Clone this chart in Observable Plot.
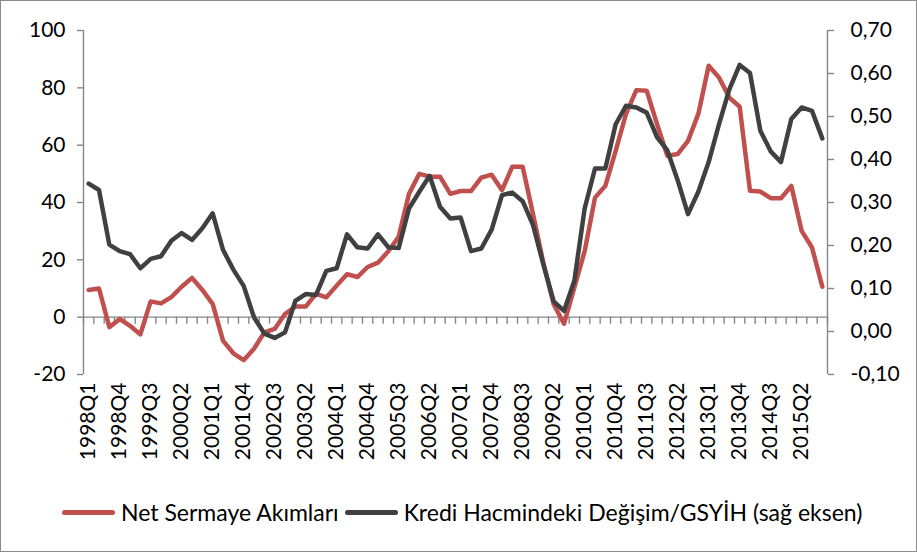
<!DOCTYPE html>
<html>
<head>
<meta charset="utf-8">
<script src="https://cdn.jsdelivr.net/npm/d3@7"></script>
<script src="https://cdn.jsdelivr.net/npm/@observablehq/plot@0.6"></script>
<style>
  body { margin: 0; background: #fff; }
  #wrap { position: relative; width: 917px; height: 552px; overflow: hidden; background: #fff; font-family: Lato, "Open Sans", sans-serif; }
  #border { position: absolute; left: 0; top: 0; right: 0; bottom: 0; border: 1px solid #8c8c8c; box-sizing: border-box; pointer-events: none; }
  #chart svg { display: block; }
  #legend { position: absolute; left: 0; top: 490px; width: 917px; height: 44px; display: flex; align-items: center; justify-content: flex-start; font-size: 23px; color: #000; padding-left: 62px; box-sizing: border-box; }
  .sw { display: inline-block; width: 53px; height: 5px; border-radius: 3px; margin-right: 6px; }
  .lab { margin-right: 6px; white-space: nowrap; }
</style>
</head>
<body>
<div id="wrap">
  <div id="chart"></div>
  <div id="legend"></div>
  <div id="border"></div>
</div>
<script>
// Quarters 1998Q1 .. 2015Q4
const years = d3.range(1998, 2016);
const quarters = years.flatMap(y => [1, 2, 3, 4].map(q => `${y}Q${q}`));

// Net Sermaye Akımları (left axis)
const netSermaye = [
  9.5, 10, -3.5, -0.6, -3, -6, 5.5, 4.8, 7, 10.6, 13.7, 9.5,
  4.6, -8.2, -12.6, -15, -11, -5.3, -4.1, 1.1, 3.7, 3.7, 8.1, 6.9,
  11, 15, 14, 17.5, 19, 23, 28, 43, 50, 49, 49, 43,
  44, 44, 48.7, 49.7, 44.3, 52.5, 52.5, 36, 19, 4.5, -2.3, 10.3,
  23, 41.7, 45.8, 58, 70.9, 79.2, 79, 67.4, 56.3, 56.9, 61.5, 70.9,
  87.7, 83.6, 76.6, 73.4, 44.1, 43.8, 41.5, 41.5, 45.8, 30.1, 24.3, 10.6
];

// Kredi Hacmindeki Değişim/GSYİH (right axis)
const krediDegisim = [
  0.344, 0.329, 0.202, 0.187, 0.180, 0.147, 0.169, 0.175, 0.211, 0.229, 0.213, 0.240,
  0.275, 0.190, 0.144, 0.106, 0.033, -0.005, -0.015, -0.002, 0.071, 0.087, 0.085, 0.141,
  0.147, 0.226, 0.196, 0.193, 0.226, 0.196, 0.194, 0.286, 0.325, 0.362, 0.290, 0.263,
  0.265, 0.187, 0.193, 0.237, 0.317, 0.323, 0.303, 0.248, 0.156, 0.070, 0.048, 0.118,
  0.286, 0.379, 0.379, 0.482, 0.525, 0.521, 0.509, 0.452, 0.421, 0.352, 0.273, 0.325,
  0.394, 0.482, 0.563, 0.620, 0.601, 0.467, 0.419, 0.394, 0.494, 0.521, 0.513, 0.449
];

const leftTicks = [-20, 0, 20, 40, 60, 80, 100];
const rightTicks = [-0.1, 0, 0.1, 0.2, 0.3, 0.4, 0.5, 0.6, 0.7];
const labelEvery = 3;

const seriesNames = ["Net Sermaye Akımları", "Kredi Hacmindeki Değişim/GSYİH (sağ eksen)"];
const colors = ["#C0504D", "#404040"];
const axisGray = "#868686";

// map right axis values onto left scale: [-0.1,0.7] -> [-20,100]
const leftDomain = [-20, 100];
const rightDomain = [-0.1, 0.7];
const toLeft = v => leftDomain[0] + (v - rightDomain[0]) / (rightDomain[1] - rightDomain[0]) * (leftDomain[1] - leftDomain[0]);
const fromLeft = v => rightDomain[0] + (v - leftDomain[0]) / (leftDomain[1] - leftDomain[0]) * (rightDomain[1] - rightDomain[0]);

const rows = quarters.map((q, i) => ({ i, q, net: netSermaye[i], kredi: krediDegisim[i] }));
const n = quarters.length;
const boundaries = d3.range(n + 1).map(k => k - 0.5);
const labelIdx = d3.range(0, n, labelEvery);
const fmtRight = v => d3.format(".2f")(v).replace("−", "-").replace(".", ",");

const chart = Plot.plot({
  width: 917,
  height: 480,
  marginLeft: 83,
  marginRight: 90,
  marginTop: 30,
  marginBottom: 106,
  style: { fontFamily: "Lato, 'Open Sans', sans-serif", fontSize: "21px", color: "#000", background: "transparent", overflow: "visible" },
  x: { type: "linear", domain: [-0.5, n - 0.5], label: null },
  y: { domain: leftDomain, label: null },
  marks: [
    Plot.ruleY([0], { stroke: axisGray, strokeWidth: 1.4 }),
    Plot.ruleX(boundaries, { x: d => d, y1: 0, y2: 0, insetBottom: -7, stroke: axisGray, strokeWidth: 1.4 }),
    Plot.ruleX([boundaries[0], boundaries[n]], { stroke: axisGray, strokeWidth: 1.4 }),
    Plot.axisY({ anchor: "left", label: null, ticks: leftTicks, tickFormat: d => String(d), tickSize: 6, tickPadding: 12, stroke: axisGray, strokeWidth: 1.4, fill: "#000", fontSize: 21 }),
    Plot.axisY({ anchor: "right", label: null, ticks: rightTicks.map(toLeft), tickFormat: d => fmtRight(fromLeft(d)), tickSize: 6, tickPadding: 17, stroke: axisGray, strokeWidth: 1.4, fill: "#000", fontSize: 21 }),
    Plot.axisX({ anchor: "bottom", label: null, ticks: labelIdx, tickFormat: i => quarters[i], tickRotate: -90, tickSize: 0, tickPadding: 8, fill: "#000", fontSize: 21 }),
    Plot.line(rows, { x: "i", y: "net", stroke: colors[0], strokeWidth: 4.5, strokeLinejoin: "round", strokeLinecap: "round" }),
    Plot.line(rows, { x: "i", y: d => toLeft(d.kredi), stroke: colors[1], strokeWidth: 4.5, strokeLinejoin: "round", strokeLinecap: "round" })
  ]
});
document.getElementById("chart").appendChild(chart);

const legend = document.getElementById("legend");
seriesNames.forEach((name, k) => {
  const sw = document.createElement("span");
  sw.className = "sw";
  sw.style.background = colors[k];
  const lab = document.createElement("span");
  lab.className = "lab";
  lab.textContent = name;
  legend.appendChild(sw);
  legend.appendChild(lab);
});
</script>
</body>
</html>
